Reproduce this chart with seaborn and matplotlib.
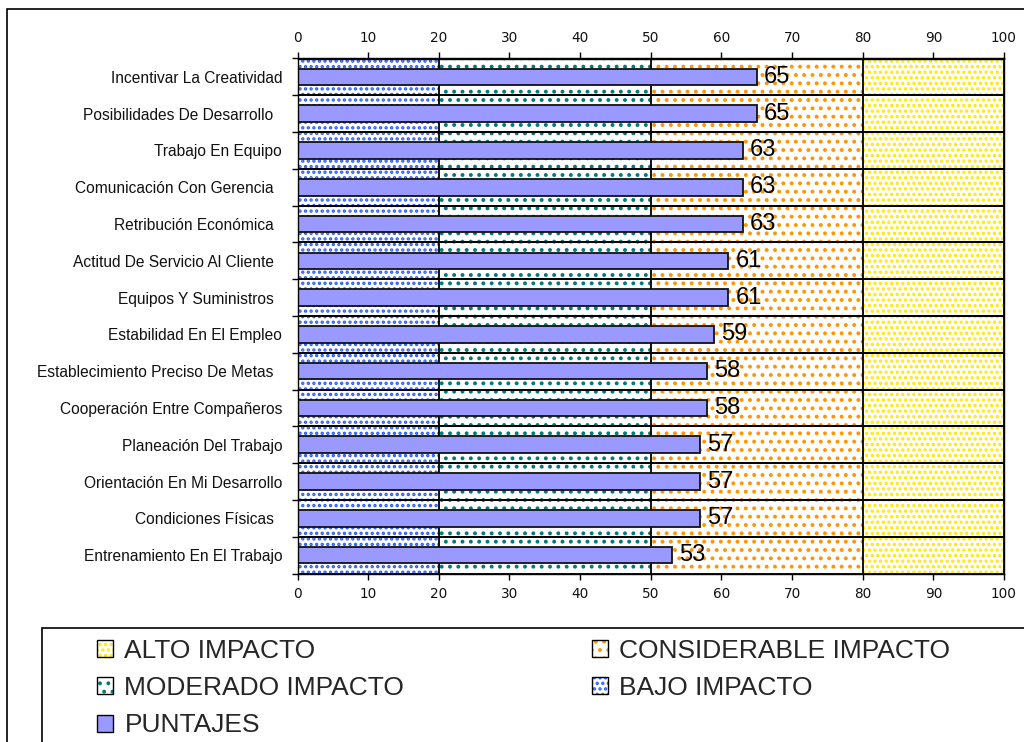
import matplotlib
matplotlib.use("Agg")
import matplotlib.pyplot as plt
from matplotlib.patches import Patch, Rectangle
from matplotlib.legend_handler import HandlerTuple
import pandas as pd
import seaborn as sns

# ---- data -------------------------------------------------------------
factores = [
    "Incentivar La Creatividad",
    "Posibilidades De Desarrollo  ",
    "Trabajo En Equipo",
    "Comunicación Con Gerencia  ",
    "Retribución Económica  ",
    "Actitud De Servicio Al Cliente  ",
    "Equipos Y Suministros  ",
    "Estabilidad En El Empleo",
    "Establecimiento Preciso De Metas  ",
    "Cooperación Entre Compañeros",
    "Planeación Del Trabajo",
    "Orientación En Mi Desarrollo",
    "Condiciones Físicas  ",
    "Entrenamiento En El Trabajo",
]
puntajes = [65, 65, 63, 63, 63, 61, 61, 59, 58, 58, 57, 57, 57, 53]

niveles = ["BAJO IMPACTO", "MODERADO IMPACTO", "CONSIDERABLE IMPACTO", "ALTO IMPACTO"]
limites = [20, 50, 80, 100]
ticks_x = [0, 10, 20, 30, 40, 50, 60, 70, 80, 90, 100]

# ---- styles -----------------------------------------------------------
puntos = {
    "BAJO IMPACTO": ("#2a5cff", "..."),
    "MODERADO IMPACTO": ("#007a7a", ".."),
    "CONSIDERABLE IMPACTO": ("#ff9500", ".."),
    "ALTO IMPACTO": ("#ffe800", "..."),
}
color_puntaje = "#9999ff"

sns.set_theme(style="white")
plt.rcParams["font.family"] = ["Liberation Sans", "DejaVu Sans"]
plt.rcParams["hatch.linewidth"] = 1.6

W, H = 1024, 742
fig = plt.figure(figsize=(W / 100, H / 100), dpi=100)
ax = fig.add_axes([297.5 / W, 1 - 573.5 / H, 706.5 / W, 515 / H])

n = len(factores)

# impact bands: widest first, each narrower band paints over the left part
for nivel, limite in reversed(list(zip(niveles, limites))):
    color, patron = puntos[nivel]
    banda = pd.DataFrame({"factor": factores, "limite": [limite] * n})
    sns.barplot(data=banda, x="limite", y="factor", orient="h", width=1.0,
                color="white", saturation=1, edgecolor=color, linewidth=0,
                hatch=patron, errorbar=None, ax=ax, zorder=1)
    sns.barplot(data=banda, x="limite", y="factor", orient="h", width=1.0,
                fill=False, color="black", linewidth=1.3, errorbar=None,
                ax=ax, zorder=1)

# scores
datos = pd.DataFrame({"factor": factores, "puntaje": puntajes})
sns.barplot(data=datos, x="puntaje", y="factor", orient="h", width=0.45,
            color=color_puntaje, saturation=1, edgecolor="#111111",
            linewidth=1.3, errorbar=None, ax=ax, zorder=3)
ax.bar_label(ax.containers[-1], fmt="%g", padding=5, fontsize=17,
             color="black", zorder=4)

# ---- axes -------------------------------------------------------------
ax.set_xlim(0, 100)
ax.set_ylim(n - 0.5, -0.5)
ax.set_xlabel("")
ax.set_ylabel("")

etiquetas_x = [str(t) for t in ticks_x]
ax.set_xticks(ticks_x, labels=etiquetas_x, fontfamily="DejaVu Sans",
              fontsize=9.8, color="#111111")
ax.tick_params(axis="x", which="major", top=False, bottom=True,
               labeltop=False, labelbottom=True, direction="out",
               length=4.5, width=1, color="black", pad=5.5)

# same scale repeated along the top edge
arriba = ax.secondary_xaxis("top")
arriba.set_xticks(ticks_x, labels=etiquetas_x, fontfamily="DejaVu Sans",
                  fontsize=9.8, color="#111111")
arriba.tick_params(axis="x", direction="out", length=4.5, width=1,
                   color="black", pad=5.5)
arriba.spines["top"].set_color("black")
arriba.spines["top"].set_linewidth(1.0)

ax.set_yticks(range(n), labels=factores, fontsize=11.2, color="#111111")
ax.set_yticks([i - 0.5 for i in range(n + 1)], minor=True)
ax.tick_params(axis="y", which="major", left=False, length=0, pad=11)
ax.tick_params(axis="y", which="minor", left=True, direction="out",
               length=4.5, width=1, color="black")

for lado in ax.spines.values():
    lado.set_color("black")
    lado.set_linewidth(1.0)
    lado.set_zorder(5)

# ---- outer frame and legend box ---------------------------------------
fig.add_artist(Rectangle((7 / W, -0.1), 1.2, (1 - 9 / H) + 0.1,
                         transform=fig.transFigure, fill=False,
                         edgecolor="black", linewidth=1.2))
fig.add_artist(Rectangle((42 / W, -0.1), 1.2, (1 - 628 / H) + 0.1,
                         transform=fig.transFigure, fill=False,
                         edgecolor="black", linewidth=1.2))


def muestra(nivel):
    color, patron = puntos[nivel]
    return (Patch(facecolor="white", edgecolor=color, linewidth=0, hatch=patron),
            Patch(facecolor="none", edgecolor="black", linewidth=1.0))


muestra_puntaje = Patch(facecolor=color_puntaje, edgecolor="black", linewidth=1.0)

ley_kw = dict(loc="upper left", frameon=False, fontsize=19, handlelength=0.62,
              handleheight=0.62, handletextpad=0.42, labelspacing=0.5,
              borderpad=0, borderaxespad=0,
              handler_map={tuple: HandlerTuple(ndivide=1)})
fig.legend([muestra("ALTO IMPACTO"), muestra("MODERADO IMPACTO"), muestra_puntaje],
           ["ALTO IMPACTO", "MODERADO IMPACTO", "PUNTAJES"],
           bbox_to_anchor=(97 / W, 1 - 639 / H), **ley_kw)
fig.legend([muestra("CONSIDERABLE IMPACTO"), muestra("BAJO IMPACTO")],
           ["CONSIDERABLE IMPACTO", "BAJO IMPACTO"],
           bbox_to_anchor=(592 / W, 1 - 639 / H), **ley_kw)

fig.savefig("out.png", dpi=100)
